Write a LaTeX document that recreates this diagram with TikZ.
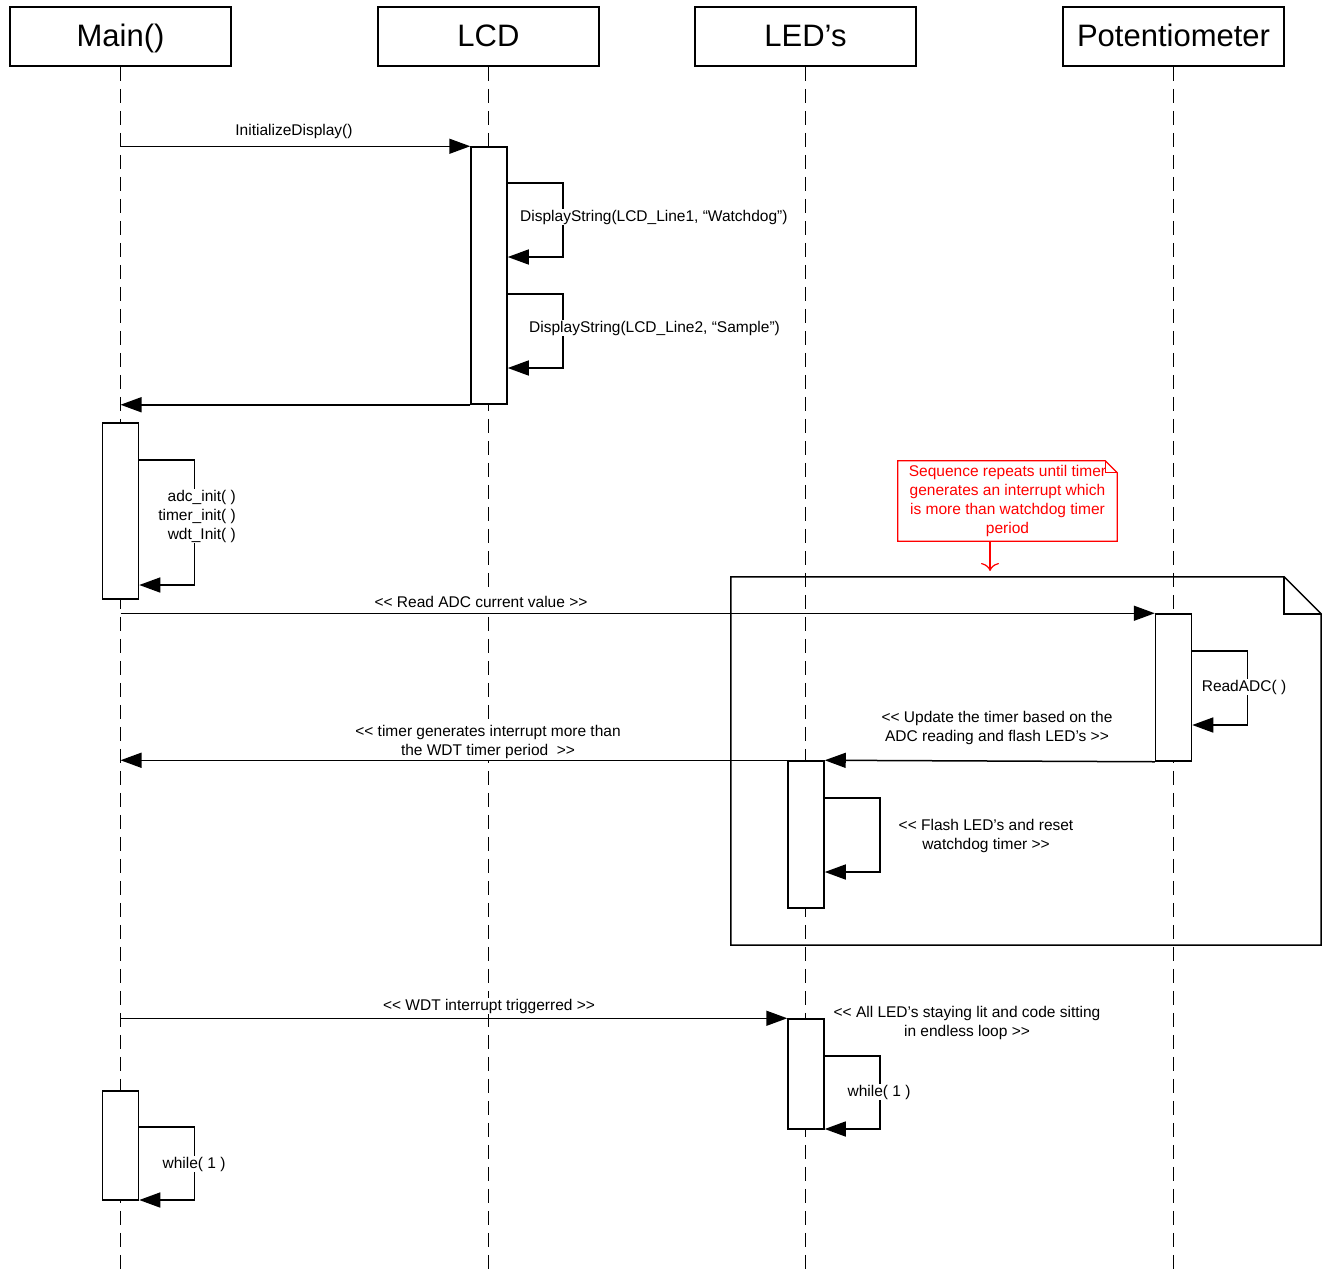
\documentclass[tikz,border=0pt]{standalone}
\usepackage{fontspec}
\setmainfont{Liberation Sans}
\usetikzlibrary{arrows.meta}
\usetikzlibrary{positioning}

\tikzset{
	actor/.style={draw, line width=1.5pt, fill=white, minimum width=221pt, minimum height=59pt, inner sep=0pt, text height=24pt, text depth=5pt, font=\fontsize{31}{37}\selectfont},
	lifeline/.style={line width=1.5pt, dash pattern=on 14pt off 8pt},
	actbox/.style={draw, fill=white, line width=1.5pt, minimum width=36pt, inner sep=0pt},
	msg/.style={line width=1.5pt, -{Triangle[length=21pt,width=15pt]}},
	lbl/.style={fill=white, inner sep=1pt, align=center},
	notetxt/.style={inner sep=0pt, align=center, text=red, minimum width=219pt, minimum height=80pt},
}

\begin{document}
\begin{tikzpicture}[x=1pt, y=-1pt, font=\fontsize{15.5}{19}\selectfont]

	\useasboundingbox (0,0) rectangle (1327,1269);
	\coordinate (bottom) at (0,1269);

	%Actors
	\node[actor] (main) at (120.5,36.5) {Main()};
	\node[actor] (lcd) at (488.5,36.5) {LCD};
	\node[actor] (led) at (805.5,36.5) {LED’s};
	\node[actor] (pot) at (1173.5,36.5) {Potentiometer};

	%Lifelines
	\foreach \a in {main,lcd,led,pot}
		\draw[lifeline] (\a.south) -- (\a.south |- bottom);

	%Loop frame
	\node[minimum width=590pt, minimum height=368pt, inner sep=0pt] (loop) at (1026,761) {};
	\draw[line width=1.5pt] (loop.north west) -- ([xshift=-37pt]loop.north east) -- ([yshift=-37pt]loop.north east)
		-- (loop.south east) -- (loop.south west) -- cycle;
	\draw[line width=1.5pt] ([xshift=-37pt]loop.north east) |- ([yshift=-37pt]loop.north east);

	%Note
	\node[notetxt] (note) at (1007.5,501) {Sequence repeats until timer\\generates an interrupt which\\is more than watchdog timer\\period};
	\draw[red, line width=1.2pt] (note.north west) -- ([xshift=-12pt]note.north east) -- ([yshift=-12pt]note.north east)
		-- (note.south east) -- (note.south west) -- cycle;
	\draw[red, line width=1.2pt] ([xshift=-12pt]note.north east) |- ([yshift=-12pt]note.north east);
	\coordinate (noteTip) at (990,571);
	\draw[red, line width=1.2pt, -{To[length=8pt,width=18pt]}] (note.south -| noteTip) -- (noteTip);

	%Activations
	\node[actbox, minimum height=257pt] (lcdA) at (489,275.5) {};
	\node[actbox, minimum height=176pt] (mainA) at (120.5,511) {};
	\node[actbox, minimum height=147pt] (potA) at (1173.5,687.5) {};
	\node[actbox, minimum height=147pt] (ledA) at (806,834.5) {};
	\node[actbox, minimum height=110pt] (ledB) at (806,1074) {};
	\node[actbox, minimum height=109pt] (mainB) at (120.5,1145.5) {};

	%Main -> LCD
	\draw[msg] (main.south |- lcdA.north) -- (lcdA.north west);
	\node[lbl] (initLbl) at (294,131) {InitializeDisplay()};

	\draw[msg] (lcdA.east |- 0,183) -- ++(55,0) |- (lcdA.east |- 0,257);
	\node[lbl, anchor=west] (ds1) at (519,217) {DisplayString(LCD\_Line1, “Watchdog”)};

	\draw[msg] (lcdA.east |- 0,294) -- ++(55,0) |- (lcdA.east |- 0,368);
	\node[lbl, anchor=west] (ds2) at (528,328) {DisplayString(LCD\_Line2, “Sample”)};

	\draw[msg] (lcdA.south west) -- (main.south |- lcdA.south);

	%Main init
	\draw[msg] (mainA.east |- 0,460) -- ++(55,0) |- (mainA.east |- 0,585);
	\node[lbl, align=right, anchor=east] (initAll) at (237,516) {adc\_init( )\\timer\_init( )\\wdt\_Init( )};

	%Loop
	\draw[msg] (main.south |- potA.north) -- (potA.north west);
	\node[lbl] (readLbl) at (481,602) {<{}< Read ADC current value >{}>};

	\draw[msg] (potA.east |- 0,651) -- ++(55,0) |- (potA.east |- 0,725);
	\node[lbl] (readAdc) at (1244,687) {ReadADC( )};

	\draw[msg] (potA.south west) -- (ledA.north east);
	\node[lbl] (updLbl) at (997,728) {<{}< Update the timer based on the\\ADC reading and flash LED’s >{}>};

	\draw[msg] (ledA.north west) -- (main.south |- ledA.north);
	\node[lbl] (irqLbl) at (488,742) {<{}< timer generates interrupt more than\\the WDT timer period~ >{}>};

	\draw[msg] (ledA.east |- 0,798) -- ++(55,0) |- (ledA.east |- 0,872);
	\node[lbl] (flashLbl) at (986,836) {<{}< Flash LED’s and reset\\watchdog timer >{}>};

	%WDT
	\draw[msg] (main.south |- ledB.north) -- (ledB.north west);
	\node[lbl] (wdtLbl) at (489,1006) {<{}< WDT interrupt triggerred >{}>};
	\node[lbl] (litLbl) at (967,1023) {<{}< All LED’s staying lit and code sitting\\in endless loop >{}>};

	\draw[msg] (ledB.east |- 0,1056) -- ++(55,0) |- (ledB.east |- 0,1129);
	\node[lbl] (whileLed) at (879,1092) {while( 1 )};

	\draw[msg] (mainB.east |- 0,1127) -- ++(55,0) |- (mainB.east |- 0,1200);
	\node[lbl] (whileMain) at (194,1164) {while( 1 )};

\end{tikzpicture}
\end{document}
